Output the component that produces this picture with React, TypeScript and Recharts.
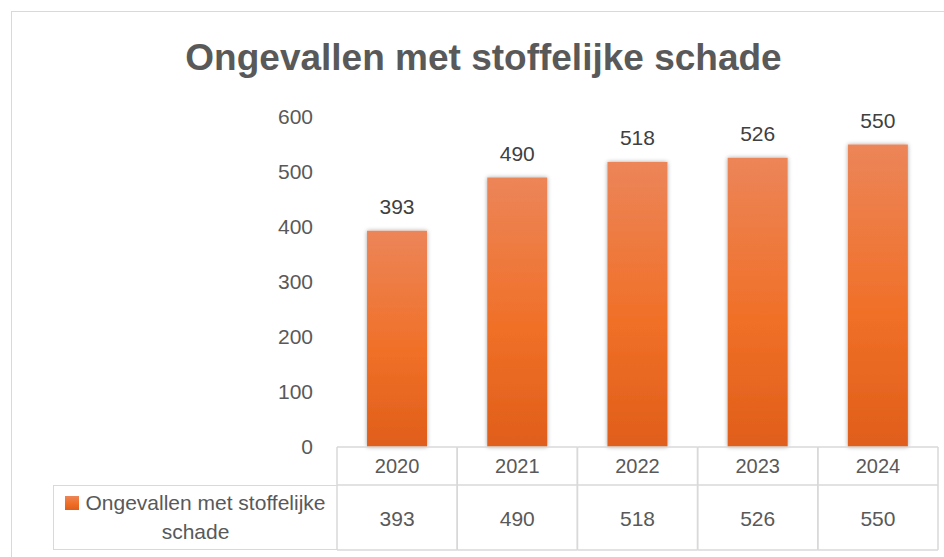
import { BarChart, Bar, XAxis, YAxis, Legend, LabelList } from 'recharts'

const years = ['2020', '2021', '2022', '2023', '2024']
const accidents = [393, 490, 518, 526, 550]
const yTicks = [0, 100, 200, 300, 400, 500, 600]
const seriesName = 'Ongevallen met stoffelijke schade'

const data = years.map((year, i) => ({ year, value: accidents[i] }))

const W = 944
const H = 557
const margin = { top: 117, right: 6, bottom: 7, left: 0 }
const yAxisWidth = 337
const xAxisHeight = 103
const headerRow = 38
const band = (W - margin.left - margin.right - yAxisWidth) / years.length

const gridColor = '#D9D9D9'
const textColor = '#595959'
const font = '"Liberation Sans", Arial, sans-serif'

// table under the plot: year header + value row
function TableTick(props: any) {
  const { x, y, payload, index } = props
  const left = x - band / 2
  const right = x + band / 2
  return (
    <g>
      <line x1={left} x2={right} y1={y} y2={y} stroke={gridColor} strokeWidth={1.5} />
      <line x1={left} x2={right} y1={y + headerRow} y2={y + headerRow} stroke={gridColor} strokeWidth={1.5} />
      <line x1={left} x2={right} y1={y + xAxisHeight} y2={y + xAxisHeight} stroke={gridColor} strokeWidth={1.5} />
      <line x1={left} x2={left} y1={y} y2={y + xAxisHeight} stroke={gridColor} strokeWidth={1.5} />
      <line x1={right} x2={right} y1={y} y2={y + xAxisHeight} stroke={gridColor} strokeWidth={1.5} />
      <text x={x} y={y + 19} textAnchor="middle" dominantBaseline="central" fill={textColor} fontSize={20} fontFamily={font}>
        {payload.value}
      </text>
      <text x={x} y={y + 71} textAnchor="middle" dominantBaseline="central" fill={textColor} fontSize={21} fontFamily={font}>
        {accidents[index]}
      </text>
    </g>
  )
}

function LegendCell() {
  return (
    <div
      style={{
        boxSizing: 'border-box',
        width: '100%',
        height: '100%',
        borderLeft: `1.5px solid ${gridColor}`,
        borderTop: `1.5px solid ${gridColor}`,
        borderBottom: `1.5px solid ${gridColor}`,
        padding: '2px 6px 0 6px',
        textAlign: 'center',
        fontFamily: font,
        fontSize: 21,
        lineHeight: '29px',
        color: textColor,
      }}
    >
      <span
        style={{
          display: 'inline-block',
          width: 14,
          height: 14,
          marginRight: 6,
          background: 'linear-gradient(#EC8559, #F07028, #E05E1A)',
        }}
      />
      {seriesName}
    </div>
  )
}

export default function App() {
  return (
    <div style={{ position: 'absolute', left: 0, top: 0, width: W, height: H, background: '#fff' }}>
      <div
        style={{
          position: 'absolute',
          left: 11,
          top: 11,
          width: W,
          height: H,
          borderLeft: `1.5px solid ${gridColor}`,
          borderTop: `1.5px solid ${gridColor}`,
        }}
      />
      <div
        style={{
          position: 'absolute',
          left: 0,
          top: 37,
          width: 967,
          textAlign: 'center',
          fontFamily: font,
          fontWeight: 'bold',
          fontSize: 37,
          color: textColor,
        }}
      >
        {seriesName}
      </div>
      <BarChart width={W} height={H} data={data} margin={margin} barCategoryGap="25%">
        <defs>
          <linearGradient id="barFill" x1="0" y1="0" x2="0" y2="1">
            <stop offset="0%" stopColor="#EC8559" />
            <stop offset="55%" stopColor="#F07028" />
            <stop offset="100%" stopColor="#E05E1A" />
          </linearGradient>
          <filter id="barShadow" x="-20%" y="-5%" width="140%" height="110%">
            <feDropShadow dx="0" dy="0" stdDeviation="2.2" floodColor="#000" floodOpacity="0.35" />
          </filter>
        </defs>
        <YAxis
          width={yAxisWidth}
          domain={[0, 600]}
          ticks={yTicks}
          axisLine={false}
          tickLine={false}
          tickSize={0}
          tickMargin={24}
          tick={{ fill: textColor, fontSize: 21, fontFamily: font }}
        />
        <XAxis
          dataKey="year"
          height={xAxisHeight}
          axisLine={false}
          tickLine={false}
          tickSize={0}
          tickMargin={0}
          interval={0}
          tick={<TableTick />}
        />
        <Legend
          layout="vertical"
          align="center"
          verticalAlign="middle"
          content={() => <LegendCell />}
          wrapperStyle={{ left: 53, top: 485, width: 284, height: 65 }}
        />
        <Bar
          dataKey="value"
          name={seriesName}
          fill="url(#barFill)"
          filter="url(#barShadow)"
          isAnimationActive={false}
        >
          <LabelList
            dataKey="value"
            position="top"
            offset={17}
            fill="#404040"
            fontSize={21}
            fontFamily={font}
          />
        </Bar>
      </BarChart>
    </div>
  )
}
